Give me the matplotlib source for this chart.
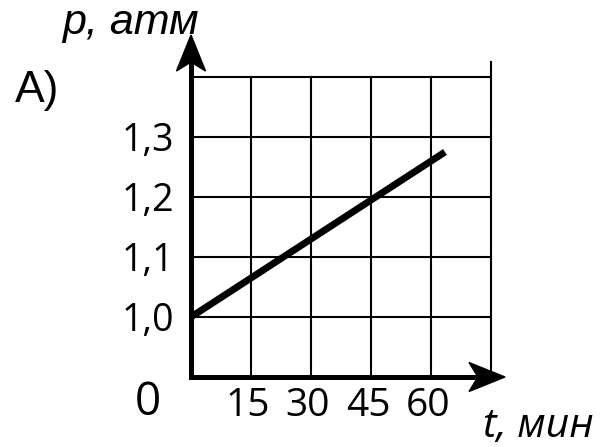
import matplotlib
matplotlib.use("Agg")
import matplotlib.pyplot as plt
from matplotlib.patches import Polygon
from matplotlib.transforms import ScaledTranslation

# Data
t_line = [0, 63.5]
p_line = [1.0, 1.275]
x_ticks = [15, 30, 45, 60]
x_tick_labels = ["15", "30", "45", "60"]
y_ticks = [1.0, 1.1, 1.2, 1.3]
y_tick_labels = ["1,0", "1,1", "1,2", "1,3"]
x_grid = [15, 30, 45, 60, 75]
y_grid = [1.0, 1.1, 1.2, 1.3, 1.4]

W, H = 601, 447
fig = plt.figure(figsize=(W / 100, H / 100), dpi=100)
ax = fig.add_axes([191 / W, (H - 377) / H, 300 / W, 300 / H])
ax.set_xlim(0, 75)
ax.set_ylim(0.9, 1.4)
for s in ax.spines.values():
    s.set_visible(False)

# grid
for xg in x_grid:
    top = 1.425 if xg == 75 else 1.4
    ax.plot([xg, xg], [0.9, top], color="black", lw=1.5, clip_on=False, zorder=1)
for yg in y_grid:
    ax.plot([0, 75], [yg, yg], color="black", lw=1.5, clip_on=False, zorder=1)

# axes lines
ax.plot([0, 0], [0.9, 1.445], color="black", lw=3.6, clip_on=False, zorder=3,
        solid_capstyle="projecting")
ax.plot([0, 76], [0.9, 0.9], color="black", lw=3.6, clip_on=False, zorder=3,
        solid_capstyle="projecting")

def arrowhead(x, y, direction):
    # stealth-like arrowhead in inches relative to the tip
    L, Wd, N = 0.36, 0.145, 0.27
    if direction == "up":
        verts = [(0, 0), (-Wd, -L), (0, -N), (Wd, -L)]
    else:
        verts = [(0, 0), (-L, Wd), (-N, 0), (-L, -Wd)]
    tr = fig.dpi_scale_trans + ScaledTranslation(x, y, ax.transData)
    ax.add_patch(Polygon(verts, closed=True, transform=tr, color="black",
                         clip_on=False, zorder=4))

arrowhead(0, 1.47, "up")
arrowhead(78.5, 0.9, "right")

# data line
ax.plot(t_line, p_line, color="black", lw=5, solid_capstyle="butt", zorder=5,
        clip_on=False)

# ticks
ax.set_xticks(x_ticks)
ax.set_xticklabels(x_tick_labels, fontfamily="Open Sans", fontsize=28)
ax.set_yticks(y_ticks)
ax.set_yticklabels(y_tick_labels, fontfamily="Open Sans", fontsize=27)
ax.tick_params(axis="x", length=0, pad=7)
ax.tick_params(axis="y", length=0, pad=12)
shift = ScaledTranslation(-3 / 100, 0, fig.dpi_scale_trans)
for lab in ax.get_xticklabels():
    lab.set_transform(lab.get_transform() + shift)

# texts
fig.text(135 / W, 1 - 415 / H, "0", fontfamily="Open Sans", fontsize=33,
         ha="left", va="baseline")
fig.text(15 / W, 1 - 102 / H, "A)", fontfamily="Liberation Sans", fontsize=32,
         ha="left", va="baseline")
fig.text(62 / W, 1 - 34 / H, "p, атм", fontfamily="Liberation Sans",
         fontstyle="italic", fontsize=31, ha="left", va="baseline")
fig.text(483 / W, 1 - 437 / H, "t, мин", fontfamily="Open Sans",
         fontstyle="italic", fontsize=29.5, ha="left", va="baseline")

fig.savefig("out.png", dpi=100)
